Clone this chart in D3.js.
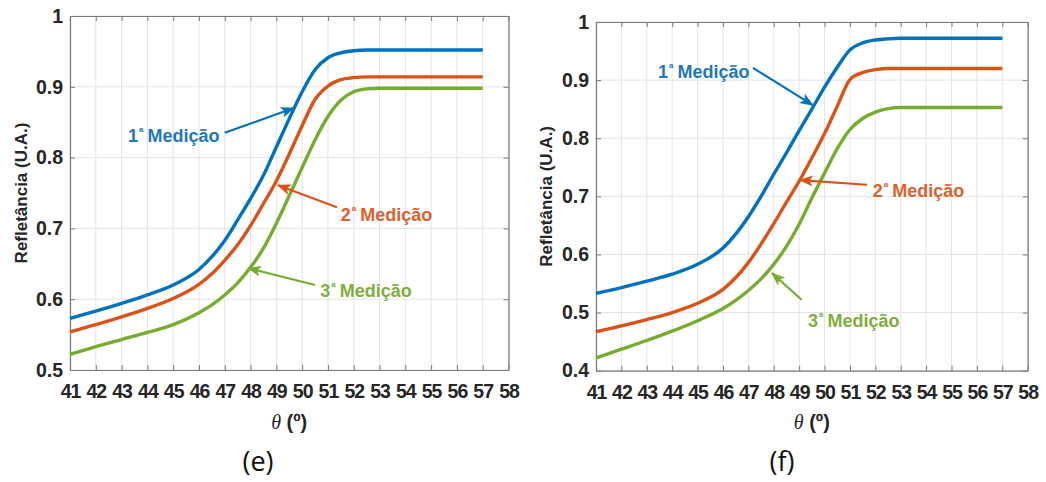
<!DOCTYPE html>
<html>
<head>
<meta charset="utf-8">
<script src="https://cdn.jsdelivr.net/npm/d3@7"></script>
<style>
  html, body { margin: 0; padding: 0; background: #ffffff; }
  svg { display: block; }
</style>
</head>
<body>
<svg id="fig" width="1046" height="482"></svg>
<script>
// Incidence angle samples (degrees), shared by every curve
const theta = [41, 42, 43, 44, 45, 46, 46.5, 47, 47.5, 48, 48.5, 49, 49.5, 50, 50.5, 51, 51.5, 52, 52.5, 53, 54, 55, 56, 57];

// Panel (e) reflectance, three measurements
const medE1 = [0.573, 0.583, 0.594, 0.606, 0.620, 0.642, 0.660, 0.683, 0.712, 0.742, 0.775, 0.815, 0.855, 0.893, 0.924, 0.941, 0.948, 0.951, 0.952, 0.952, 0.952, 0.952, 0.952, 0.952];
const medE2 = [0.554, 0.564, 0.575, 0.587, 0.601, 0.621, 0.636, 0.655, 0.677, 0.704, 0.735, 0.767, 0.805, 0.845, 0.882, 0.901, 0.910, 0.913, 0.914, 0.914, 0.914, 0.914, 0.914, 0.914];
const medE3 = [0.522, 0.533, 0.543, 0.553, 0.564, 0.581, 0.592, 0.606, 0.623, 0.645, 0.672, 0.707, 0.746, 0.786, 0.825, 0.858, 0.881, 0.893, 0.897, 0.898, 0.898, 0.898, 0.898, 0.898];

// Panel (f) reflectance, three measurements
const medF1 = [0.533, 0.543, 0.554, 0.566, 0.583, 0.611, 0.635, 0.665, 0.700, 0.738, 0.775, 0.813, 0.850, 0.888, 0.922, 0.952, 0.964, 0.969, 0.971, 0.972, 0.972, 0.972, 0.972, 0.972];
const medF2 = [0.467, 0.477, 0.488, 0.500, 0.516, 0.540, 0.560, 0.586, 0.618, 0.653, 0.690, 0.726, 0.766, 0.808, 0.855, 0.901, 0.913, 0.918, 0.920, 0.920, 0.920, 0.920, 0.920, 0.920];
const medF3 = [0.422, 0.437, 0.452, 0.468, 0.486, 0.507, 0.521, 0.538, 0.558, 0.583, 0.614, 0.652, 0.697, 0.740, 0.782, 0.815, 0.834, 0.845, 0.851, 0.853, 0.853, 0.853, 0.853, 0.853];

// Axis ticks
const xTicks = [41, 42, 43, 44, 45, 46, 47, 48, 49, 50, 51, 52, 53, 54, 55, 56, 57, 58];
const yTicksE = [0.5, 0.6, 0.7, 0.8, 0.9, 1];
const yTicksF = [0.4, 0.5, 0.6, 0.7, 0.8, 0.9, 1];

// Labels
const seriesNames = ["1", "2", "3"];
const yLabel = "Refletância (U.A.)";
const panelNames = ["(e)", "(f)"];

// Callouts: text anchor [theta, value], arrow tail and head [theta, value]
const calloutsE = [
  { s: 0, text: [43.25, 0.822], from: [47.0, 0.835], to: [49.68, 0.870] },
  { s: 1, text: [51.5, 0.710], from: [51.35, 0.730], to: [49.06, 0.761] },
  { s: 2, text: [50.7, 0.603], from: [50.5, 0.620], to: [47.9, 0.644] }
];
const calloutsF = [
  { s: 0, text: [43.44, 0.904], from: [47.18, 0.921], to: [49.54, 0.857] },
  { s: 1, text: [51.9, 0.699], from: [51.67, 0.720], to: [49.03, 0.728] },
  { s: 2, text: [49.35, 0.475], from: [49.1, 0.522], to: [47.93, 0.568] }
];

const colors = ["#0072BD", "#D95319", "#77AC30"];
const textColors = ["#1f77b8", "#d9622e", "#7fae3e"];
const FONT = "'Liberation Sans', Arial, Helvetica, sans-serif";

const svg = d3.select("#fig");

const defs = svg.append("defs");
colors.forEach((c, i) => {
  defs.append("marker")
    .attr("id", "head" + i)
    .attr("viewBox", "0 0 14 11")
    .attr("refX", 13).attr("refY", 5.5)
    .attr("markerWidth", 14).attr("markerHeight", 11)
    .attr("markerUnits", "userSpaceOnUse")
    .attr("orient", "auto")
    .append("path")
    .attr("d", "M0,0 L14,5.5 L0,11 L3.5,5.5 Z")
    .attr("fill", c);
});

function drawPanel(cfg) {
  const { left, top, right, bottom, yDomain, yTicks, series, callouts, name, nameX } = cfg;
  const x = d3.scaleLinear().domain([41, 58]).range([left, right]);
  const y = d3.scaleLinear().domain(yDomain).range([bottom, top]);
  const g = svg.append("g");

  // grid
  const grid = g.append("g").attr("stroke", "#e4e4e4").attr("stroke-width", 1);
  xTicks.forEach(t => grid.append("line")
    .attr("x1", x(t)).attr("x2", x(t)).attr("y1", top).attr("y2", bottom));
  yTicks.forEach(t => grid.append("line")
    .attr("x1", left).attr("x2", right).attr("y1", y(t)).attr("y2", y(t)));

  // axes with inward ticks, mirrored on the opposite sides
  const fmt = d => d === 1 ? "1" : d3.format(".1f")(d);
  const styleAxis = sel => {
    sel.select(".domain").attr("stroke", "#7a7a7a").attr("stroke-width", 1.2);
    sel.selectAll(".tick line").attr("stroke", "#7a7a7a");
    sel.selectAll("text")
      .attr("fill", "#262626")
      .style("font-family", FONT)
      .style("font-weight", "bold")
      .style("font-size", "19.5px");
  };
  g.append("g").attr("transform", `translate(0,${bottom})`)
    .call(d3.axisBottom(x).tickValues(xTicks).tickSizeInner(-5).tickSizeOuter(0).tickPadding(14).tickFormat(d3.format("d")))
    .call(styleAxis)
    .selectAll("text").style("letter-spacing", "-1px");
  g.append("g").attr("transform", `translate(${left},0)`)
    .call(d3.axisLeft(y).tickValues(yTicks).tickSizeInner(-5).tickSizeOuter(0).tickPadding(7).tickFormat(fmt))
    .call(styleAxis);
  g.append("g").attr("transform", `translate(0,${top})`)
    .call(d3.axisTop(x).tickValues(xTicks).tickSizeInner(-5).tickSizeOuter(0).tickFormat(""))
    .call(styleAxis);
  g.append("g").attr("transform", `translate(${right},0)`)
    .call(d3.axisRight(y).tickValues(yTicks).tickSizeInner(-5).tickSizeOuter(0).tickFormat(""))
    .call(styleAxis);

  // curves
  const line = d3.line()
    .x((d, i) => x(theta[i]))
    .y(d => y(d))
    .curve(d3.curveMonotoneX);
  series.forEach((vals, i) => {
    g.append("path")
      .datum(vals)
      .attr("d", line)
      .attr("fill", "none")
      .attr("stroke", colors[i])
      .attr("stroke-width", 3.4)
      .attr("stroke-linejoin", "round");
  });

  // callouts
  callouts.forEach(c => {
    g.append("line")
      .attr("x1", x(c.from[0])).attr("y1", y(c.from[1]))
      .attr("x2", x(c.to[0])).attr("y2", y(c.to[1]))
      .attr("stroke", colors[c.s]).attr("stroke-width", 2.2)
      .attr("marker-end", `url(#head${c.s})`);
    const t = g.append("text")
      .attr("x", x(c.text[0])).attr("y", y(c.text[1]))
      .attr("fill", textColors[c.s])
      .style("font-family", FONT)
      .style("font-weight", "bold")
      .style("font-size", "18px");
    t.append("tspan").text(seriesNames[c.s]);
    t.append("tspan").attr("dy", -10).attr("dx", 1).style("font-size", "8px").text("a");
    t.append("tspan").attr("dy", 10).attr("dx", 4).text("Medição");
  });

  // y label
  svg.append("text")
    .attr("transform", `translate(${cfg.yLabelX},${(top + bottom) / 2}) rotate(-90)`)
    .attr("text-anchor", "middle")
    .attr("fill", "#262626")
    .style("font-family", FONT)
    .style("font-weight", "bold")
    .style("font-size", "17px")
    .text(yLabel);

  // x label
  const xl = svg.append("text")
    .attr("x", (left + right) / 2).attr("y", 429)
    .attr("text-anchor", "middle")
    .attr("fill", "#262626")
    .style("font-family", FONT)
    .style("font-size", "20px");
  xl.append("tspan").style("font-family", "'Liberation Serif', 'DejaVu Serif', serif").style("font-style", "italic").text("θ");
  xl.append("tspan").style("font-weight", "bold").text(" (º)");

  // panel caption
  svg.append("text")
    .attr("x", nameX).attr("y", 471)
    .attr("text-anchor", "middle")
    .attr("fill", "#111111")
    .style("font-family", "'Open Sans', 'Noto Sans', sans-serif")
    .style("font-size", "27px")
    .text(name);
}

drawPanel({
  left: 70, top: 16, right: 508.5, bottom: 370,
  yDomain: [0.5, 1], yTicks: yTicksE,
  series: [medE1, medE2, medE3], callouts: calloutsE,
  name: panelNames[0], nameX: 258, yLabelX: 27
});
drawPanel({
  left: 596, top: 22, right: 1027.7, bottom: 370.7,
  yDomain: [0.4, 1], yTicks: yTicksF,
  series: [medF1, medF2, medF3], callouts: calloutsF,
  name: panelNames[1], nameX: 782, yLabelX: 552
});
</script>
</body>
</html>
